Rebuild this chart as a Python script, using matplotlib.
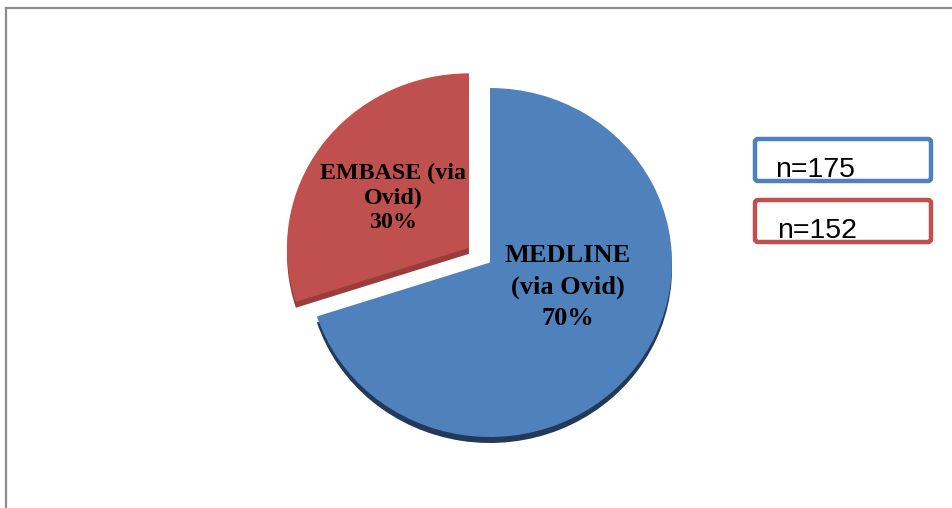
"""Share of records by database, 3D-style exploded pie."""

import matplotlib.pyplot as plt
from matplotlib.lines import Line2D
from matplotlib.patches import FancyBboxPatch

# Data
labels = ["MEDLINE\n(via Ovid)", "EMBASE (via\nOvid)"]
shares = [70, 30]
counts = [175, 152]

colors = ["#4F81BD", "#C0504D"]
depth_colors = ["#22395A", "#9A3D3A"]

W, H = 953, 508
sy = 174.5 / 182  # pie is drawn slightly squashed (tilted look)

fig = plt.figure(figsize=(W / 100, H / 100), dpi=100)
ax = fig.add_axes([0, 0, 1, 1])

center = (490, (H - 262.5) / sy)
radius = 182
explode = [0, 26]  # pie's explode is in data units here (pixels)
depth = 6 / sy

# depth layer (shifted down), then the top face
ax.pie(shares, colors=depth_colors, startangle=90, counterclock=False,
       explode=explode, radius=radius,
       center=(center[0], center[1] - depth),
       wedgeprops=dict(linewidth=0))
wedges, _ = ax.pie(shares, colors=colors, startangle=90, counterclock=False,
                   explode=explode, radius=radius, center=center,
                   wedgeprops=dict(linewidth=0))

# slice labels: offset from wedge centre (data units), font size, line spacing
label_pos = [(78, -25.5, 19, 1.47), (-76, 52, 17.3, 1.23)]
for w, lab, pct, (dx, dy, fs, ls) in zip(wedges, labels, shares, label_pos):
    cx, cy = w.center
    ax.text(cx + dx, cy + dy, f"{lab}\n{pct}%", ha="center", va="center",
            fontsize=fs, fontweight="bold", family="Liberation Serif",
            color="black", linespacing=ls)

ax.set_aspect("auto")
ax.set_xlim(0, W)
ax.set_ylim(0, H / sy)
ax.axis("off")

# overlay in pixel coordinates for the n boxes and the frame
ov = fig.add_axes([0, 0, 1, 1], facecolor="none")
ov.set_xlim(0, W)
ov.set_ylim(H, 0)
ov.axis("off")

box_tops = [139, 200]
for i, (n, col) in enumerate(zip(counts, colors)):
    top = box_tops[i]
    ov.add_patch(FancyBboxPatch((755, top), 176, 42,
                                boxstyle="round,pad=0,rounding_size=3",
                                fill=False, edgecolor=col, linewidth=3.2))
    ov.text(775 + i * 2, top + 38, f"n={n}", ha="left", va="baseline",
            fontsize=20.5, family="Liberation Sans", color="black")

ov.add_line(Line2D([6, W], [8, 8], color="#8C8C8C", lw=1.6))
ov.add_line(Line2D([6, 6], [8, H], color="#8C8C8C", lw=1.6))

fig.savefig("out.png", dpi=100, facecolor="white")
